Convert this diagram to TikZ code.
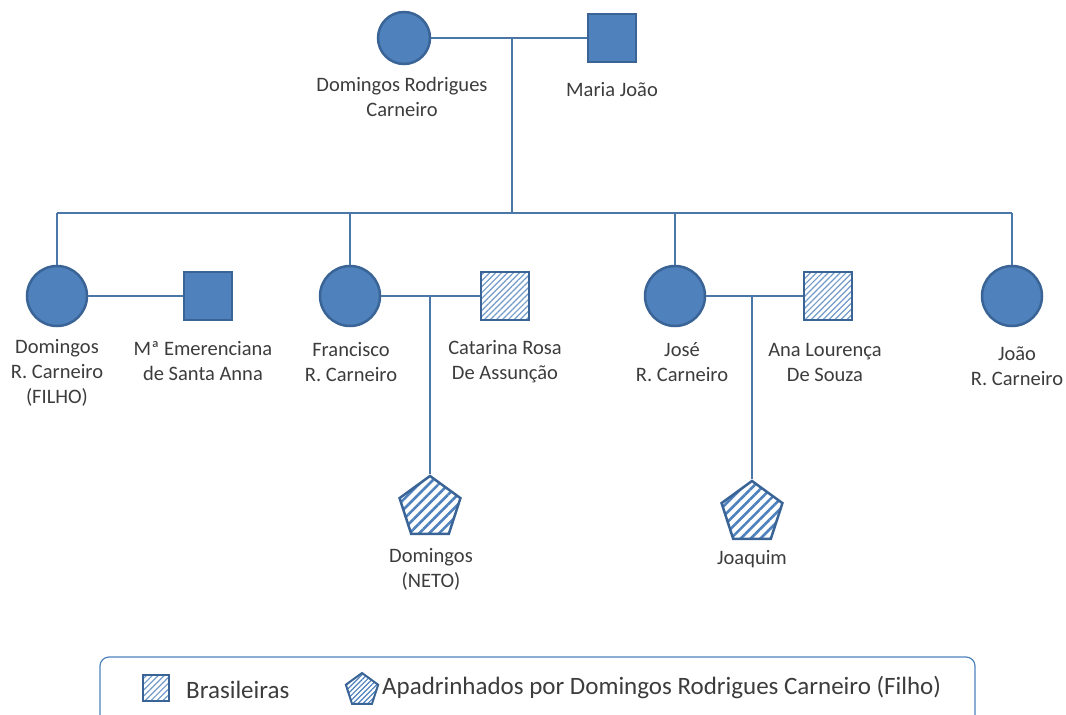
\documentclass[tikz,border=0pt]{standalone}
\usepackage{fontspec}
\setmainfont{Carlito}
\usetikzlibrary{shapes.geometric,patterns.meta}

\definecolor{pblue}{HTML}{4F81BD}
\definecolor{pedge}{HTML}{3A6496}
\definecolor{plink}{HTML}{4A76A8}
\definecolor{ptext}{HTML}{3C3C3C}

\begin{document}
\begin{tikzpicture}[x=1pt,y=-1pt,
	woman/.style={circle,inner sep=0,minimum size=60,fill=pblue,draw=pedge,line width=2.5},
	man/.style={rectangle,inner sep=0,minimum size=48,fill=pblue,draw=pedge,line width=2.5},
	brasil/.style={rectangle,inner sep=0,minimum size=48,draw=pedge,line width=2.5,
		pattern={Lines[angle=45,distance=4.2pt,line width=1.2pt]},pattern color=pblue!80},
	afilhado/.style={regular polygon,regular polygon sides=5,inner sep=0,minimum size=64,
		draw=pedge,line width=2.5,
		pattern={Lines[angle=45,distance=7pt,line width=2.6pt]},pattern color=pblue},
	link/.style={draw=plink,line width=1.3},
	nametag/.style={align=center,text=ptext,font=\fontsize{20.5}{25}\selectfont,inner sep=0}]

	\useasboundingbox (0,0) rectangle (1066,715);

	% Generation 1
	\node[woman,minimum size=52] (drc) at (404,38) {};
	\node[man] (mj) at (612,38) {};
	\node[nametag] at (402,97) (drcname) {Domingos Rodrigues\\Carneiro};
	\node[nametag] at (612,90) (mjname) {Maria João};

	% Generation 2
	\node[woman] (filho) at (57,296) {};
	\node[man] (emer) at (208,296) {};
	\node[woman] (fran) at (350,296) {};
	\node[brasil] (cat) at (505,296) {};
	\node[woman] (jose) at (675,296) {};
	\node[brasil] (ana) at (828,296) {};
	\node[woman] (joao) at (1012,296) {};

	\node[nametag] at (57,373) (filhoname) {Domingos\\R. Carneiro\\(FILHO)};
	\node[nametag] at (203,361) (emername) {Mª Emerenciana\\de Santa Anna};
	\node[nametag] at (351,362) (franname) {Francisco\\R. Carneiro};
	\node[nametag] at (505,362) (catname) {Catarina Rosa\\De Assunção};
	\node[nametag] at (682,362) (josename) {José\\R. Carneiro};
	\node[nametag] at (825,362) (ananame) {Ana Lourença\\De Souza};
	\node[nametag] at (1017,366) (joaoname) {João\\R. Carneiro};

	% Generation 3
	\node[afilhado] (neto) at (430,508) {};
	\node[afilhado] (joaq) at (752,513) {};
	\node[nametag] at (431,569) (netoname) {Domingos\\(NETO)};
	\node[nametag] at (752,559) (joaqname) {Joaquim};

	% Couples
	\draw[link] (drc) -- (mj);
	\draw[link] (filho) -- (emer);
	\draw[link] (fran) -- (cat);
	\draw[link] (jose) -- (ana);

	% Children
	\coordinate (top) at (512,38);
	\coordinate (barL) at (57,213);
	\coordinate (barR) at (1012,213);
	\draw[link] (top) -- (top |- barL);
	\draw[link] (barL) -- (barR);
	\draw[link] (barL) -- (filho);
	\draw[link] (barR) -- (joao);
	\draw[link] (fran |- barL) -- (fran);
	\draw[link] (jose |- barL) -- (jose);
	\coordinate (franmid) at (430,296);
	\coordinate (josemid) at (752,296);
	\draw[link] (franmid) -- (neto.corner 1);
	\draw[link] (josemid) -- (joaq.corner 1);

	% Legend
	\draw[draw=pblue,line width=1.2,rounded corners=9] (100,657) rectangle (975,730);
	\node[brasil,minimum size=26,line width=2] (legbr) at (156,688) {};
	\node[nametag,anchor=west,font=\fontsize{25}{28}\selectfont] (legbrtext) at (186,690) {Brasileiras};
	\node[afilhado,minimum size=34,line width=2,
		pattern={Lines[angle=45,distance=3.5pt,line width=1.2pt]}] (legaf) at (362,690) {};
	\node[nametag,anchor=west,font=\fontsize{25}{28}\selectfont] (legaftext) at (382,687) {Apadrinhados por Domingos Rodrigues Carneiro (Filho)};
\end{tikzpicture}
\end{document}
